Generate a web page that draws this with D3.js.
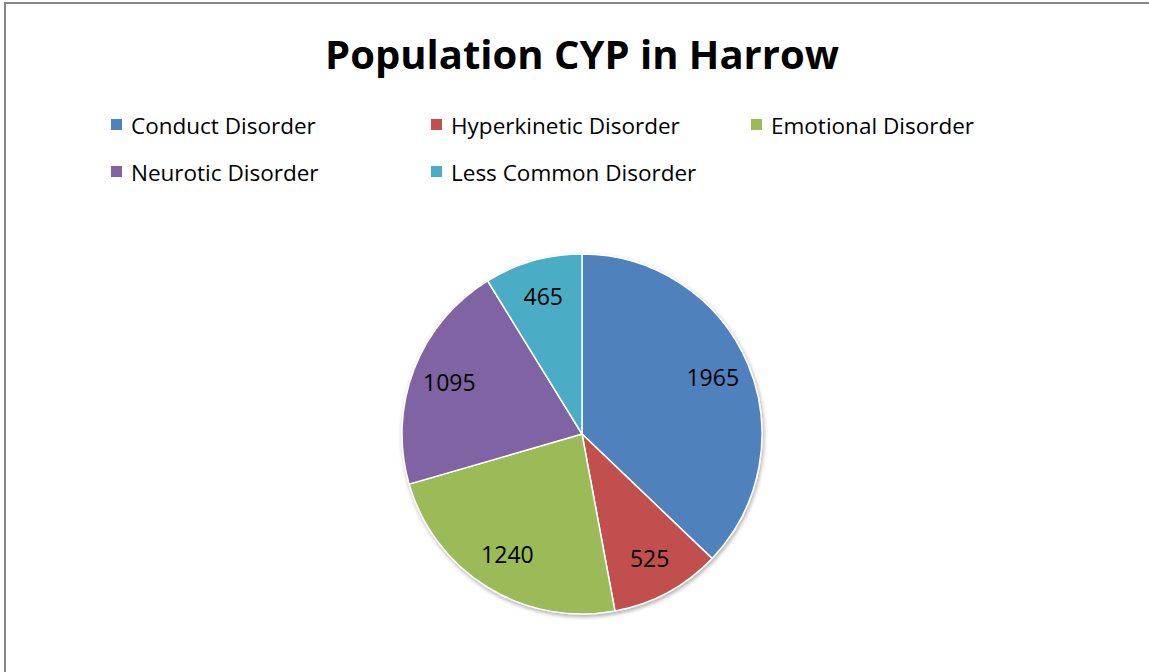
<!DOCTYPE html>
<html>
<head>
<meta charset="utf-8">
<script src="https://cdn.jsdelivr.net/npm/d3@7"></script>
<style>
  body { margin: 0; background: #fff; }
  svg { display: block; font-family: "Open Sans", "Noto Sans", sans-serif; }
</style>
</head>
<body>
<svg width="1149" height="672"></svg>
<script>
const categories = ["Conduct Disorder", "Hyperkinetic Disorder", "Emotional Disorder", "Neurotic Disorder", "Less Common Disorder"];
const values = [1965, 525, 1240, 1095, 465];
const colors = ["#4F81BD", "#C0504D", "#9BBB59", "#8064A2", "#4BACC6"];
const title = "Population CYP in Harrow";

const svg = d3.select("svg");
const w = 1149, h = 672;

// chart frame (cut off at right and bottom)
svg.append("rect")
  .attr("x", 5).attr("y", 3)
  .attr("width", w + 20).attr("height", h + 20)
  .attr("fill", "#fff")
  .attr("stroke", "#868686")
  .attr("stroke-width", 2);

svg.append("text")
  .attr("x", 582).attr("y", 69)
  .attr("text-anchor", "middle")
  .attr("font-size", 40)
  .attr("font-weight", "bold")
  .attr("fill", "#000")
  .text(title);

// legend, 3 per row
const legend = svg.append("g");
const item = legend.selectAll("g")
  .data(categories)
  .enter().append("g")
  .attr("transform", (d, i) => "translate(" + (111 + (i % 3) * 320) + "," + (125 + Math.floor(i / 3) * 47) + ")");
item.append("rect")
  .attr("x", 0).attr("y", -6)
  .attr("width", 11).attr("height", 11)
  .attr("fill", (d, i) => colors[i]);
item.append("text")
  .attr("x", 20).attr("y", 1)
  .attr("dy", "0.35em")
  .attr("font-size", 22.5)
  .attr("fill", "#000")
  .text(d => d);

// pie
const cx = 582, cy = 434, r = 180;
const pie = d3.pie().sort(null).value(d => d);
const arcs = pie(values);
const arc = d3.arc().innerRadius(0).outerRadius(r);
const labelArc = d3.arc().innerRadius(r * 0.79).outerRadius(r * 0.79);

const defs = svg.append("defs");
const f = defs.append("filter").attr("id", "shadow").attr("x", "-10%").attr("y", "-10%").attr("width", "120%").attr("height", "120%");
f.append("feGaussianBlur").attr("in", "SourceAlpha").attr("stdDeviation", 2);
f.append("feOffset").attr("dx", 1).attr("dy", 2).attr("result", "b");
f.append("feComponentTransfer").append("feFuncA").attr("type", "linear").attr("slope", 0.35);
const m = f.append("feMerge");
m.append("feMergeNode");
m.append("feMergeNode").attr("in", "SourceGraphic");

const g = svg.append("g").attr("transform", "translate(" + cx + "," + cy + ")");
g.append("g").attr("filter", "url(#shadow)")
  .selectAll("path")
  .data(arcs)
  .enter().append("path")
  .attr("d", arc)
  .attr("fill", (d, i) => colors[i])
  .attr("stroke", "#fff")
  .attr("stroke-width", 1.5);

g.selectAll("text.lbl")
  .data(arcs)
  .enter().append("text")
  .attr("class", "lbl")
  .attr("transform", d => "translate(" + labelArc.centroid(d) + ")")
  .attr("text-anchor", "middle")
  .attr("dy", "0.35em")
  .attr("font-size", 23)
  .attr("fill", "#000")
  .text(d => d.data);
</script>
</body>
</html>
